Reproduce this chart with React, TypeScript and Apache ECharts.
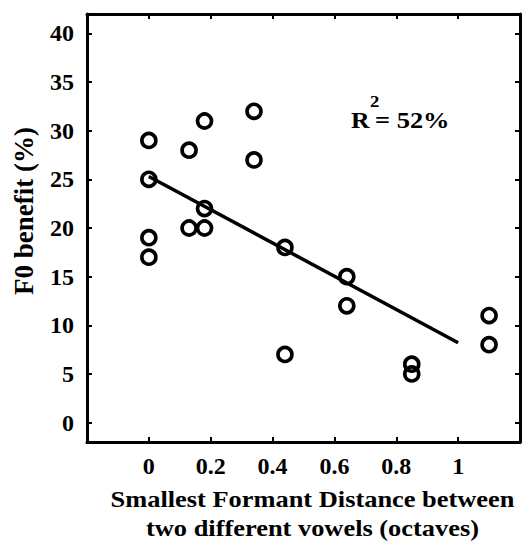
import React, { useEffect, useRef } from "react";
import * as echarts from "echarts";

// Data
const xValues = [0, 0, 0, 0, 0.13, 0.13, 0.18, 0.18, 0.18, 0.34, 0.34, 0.44, 0.44, 0.64, 0.64, 0.85, 0.85, 1.1, 1.1];
const yValues = [29, 25, 19, 17, 28, 20, 31, 22, 20, 32, 27, 18, 7, 15, 12, 6, 5, 11, 8];
const fitX = [0, 1];
const fitY = [25.3, 8.2];
const xTickLabels = ["0", "0.2", "0.4", "0.6", "0.8", "1"];
const yTickValues = [0, 5, 10, 15, 20, 25, 30, 35, 40];
const xTitle = "Smallest Formant Distance between\ntwo different vowels (octaves)";
const yTitle = "F0 benefit (%)";
const r2Main = "R";
const r2Sup = "2";
const r2Rest = "= 52%";

const FONT = "Liberation Serif";

export default function App() {
  const ref = useRef<HTMLDivElement>(null);
  useEffect(() => {
    if (!ref.current) return;
    const chart = echarts.init(ref.current, null, { renderer: "svg" });
    const axisLine = { show: true, onZero: false, lineStyle: { color: "#000", width: 3 } };
    const axisTick = { show: true, inside: true, length: 5, lineStyle: { color: "#000", width: 2 } };
    const xLabel = {
      show: true,
      margin: 12,
      color: "#000",
      fontFamily: FONT,
      fontWeight: "bold" as const,
      fontSize: 24,
      formatter: (v: number) => {
        const i = Math.round(v / 0.2);
        return i >= 0 && i < xTickLabels.length ? xTickLabels[i] : "";
      },
    };
    const yLabel = {
      show: true,
      margin: 13,
      color: "#000",
      fontFamily: FONT,
      fontWeight: "bold" as const,
      fontSize: 24,
      customValues: yTickValues,
    };
    const txt = (size: number) => ({ fontFamily: FONT, fontWeight: "bold", fontSize: size, fill: "#000" });
    const option: any = {
      animation: false,
      backgroundColor: "#fff",
      grid: { left: 87, top: 14, width: 440, height: 428, containLabel: false },
      xAxis: [
        {
          type: "value", position: "bottom", min: -0.2, max: 1.2, interval: 0.2,
          axisLine, axisTick, axisLabel: xLabel, splitLine: { show: false },
        },
        {
          type: "value", position: "top", min: -0.2, max: 1.2, interval: 0.2,
          axisLine, axisTick, axisLabel: { show: false }, splitLine: { show: false },
        },
      ],
      yAxis: [
        {
          type: "value", position: "left", min: -2, max: 42,
          axisLine, axisTick: { ...axisTick, customValues: yTickValues },
          axisLabel: yLabel, splitLine: { show: false },
        },
        {
          type: "value", position: "right", min: -2, max: 42,
          axisLine, axisTick: { ...axisTick, customValues: yTickValues },
          axisLabel: { show: false }, splitLine: { show: false },
        },
      ],
      series: [
        {
          type: "line",
          xAxisIndex: 0, yAxisIndex: 0,
          data: fitX.map((x, i) => [x, fitY[i]]),
          showSymbol: false,
          lineStyle: { color: "#000", width: 3.5 },
          z: 2,
        },
        {
          type: "scatter",
          xAxisIndex: 0, yAxisIndex: 0,
          data: xValues.map((x, i) => [x, yValues[i]]),
          symbol: "circle",
          symbolSize: 14,
          itemStyle: { color: "rgba(0,0,0,0)", borderColor: "#000", borderWidth: 3.6, opacity: 1 },
          z: 3,
        },
      ],
      graphic: [
        {
          type: "text", x: 312.5, y: 513, scaleX: 1.1,
          style: { ...txt(24), text: xTitle, textAlign: "center", textVerticalAlign: "middle", lineHeight: 29 },
        },
        {
          type: "text", x: 24, y: 211, rotation: Math.PI / 2,
          style: { ...txt(27), text: yTitle, textAlign: "center", textVerticalAlign: "middle" },
        },
        {
          type: "text", x: 351, y: 120, scaleX: 1.12,
          style: { ...txt(23), text: r2Main, textAlign: "left", textVerticalAlign: "middle" },
        },
        {
          type: "text", x: 370, y: 101, scaleX: 1.1,
          style: { ...txt(17), text: r2Sup, textAlign: "left", textVerticalAlign: "middle" },
        },
        {
          type: "text", x: 375, y: 120, scaleX: 1.15,
          style: { ...txt(23), text: r2Rest, textAlign: "left", textVerticalAlign: "middle" },
        },
      ],
    };
    chart.setOption(option);
    return () => chart.dispose();
  }, []);
  return (
    <div style={{ position: "absolute", left: 0, top: 0, width: 523, height: 543, background: "#fff", overflow: "hidden" }}>
      <div ref={ref} style={{ width: 523, height: 543 }} />
    </div>
  );
}
